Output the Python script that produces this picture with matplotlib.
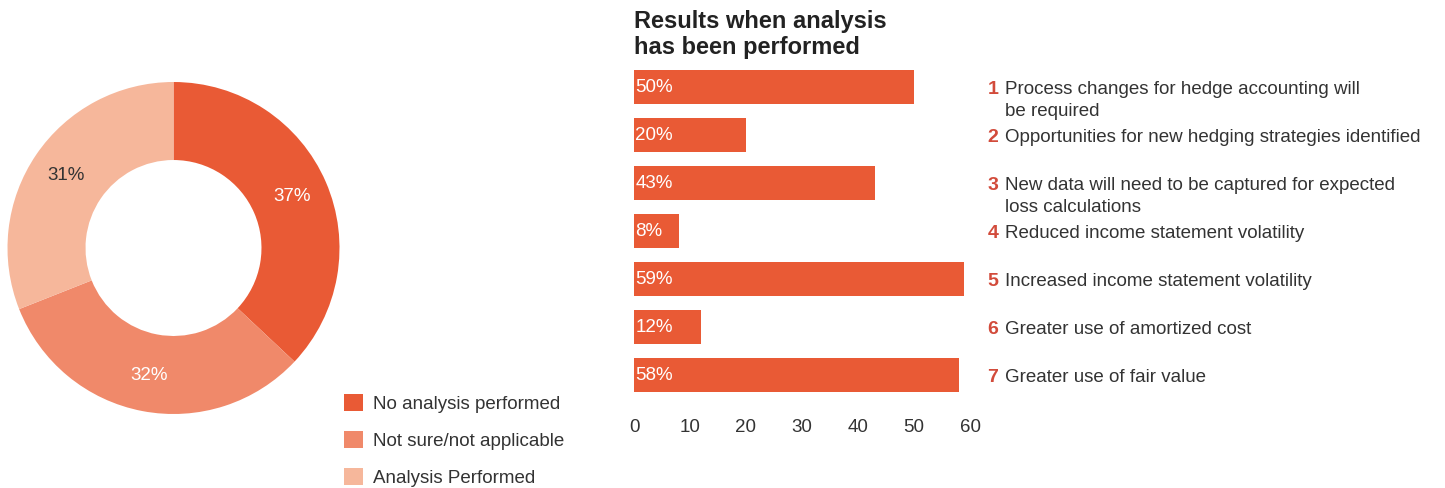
import matplotlib
matplotlib.use("Agg")
import matplotlib.pyplot as plt
from matplotlib.patches import Patch

plt.rcParams['font.family'] = ['Liberation Sans', 'DejaVu Sans']

# donut data
donut_labels = ["No analysis performed", "Not sure/not applicable", "Analysis Performed"]
donut_values = [37, 32, 31]
donut_colors = ["#E95A35", "#F0896A", "#F6B79B"]
donut_text_colors = ["white", "white", "#333333"]

# bar data
bar_values = [50, 20, 43, 8, 59, 12, 58]
bar_numbers = ["1", "2", "3", "4", "5", "6", "7"]
bar_texts = [
    "Process changes for hedge accounting will\nbe required",
    "Opportunities for new hedging strategies identified",
    "New data will need to be captured for expected\nloss calculations",
    "Reduced income statement volatility",
    "Increased income statement volatility",
    "Greater use of amortized cost",
    "Greater use of fair value",
]
x_ticks = [0, 10, 20, 30, 40, 50, 60]

W, H = 1445, 488
FS = 13.5
fig = plt.figure(figsize=(W / 100, H / 100), dpi=100)

# ---- donut ----
ax_d = fig.add_axes([7 / W, 1 - 414 / H, 333 / W, 332 / H])
wedges, _, autotexts = ax_d.pie(
    donut_values, colors=donut_colors, startangle=90, counterclock=False,
    autopct="%d%%", pctdistance=0.78,
    wedgeprops=dict(width=0.47, linewidth=0), textprops=dict(fontsize=FS))
for t, c in zip(autotexts, donut_text_colors):
    t.set_color(c)
ax_d.set_xlim(-1, 1)
ax_d.set_ylim(-1, 1)
ax_d.set_aspect("equal")
ax_d.axis("off")

handles = [Patch(facecolor=c, edgecolor="none") for c in donut_colors]
fig.legend(handles, donut_labels, loc="upper left",
           bbox_to_anchor=(344 / W, 1 - 394 / H), frameon=False, fontsize=FS,
           handlelength=1.0, handleheight=1.0, handletextpad=0.55,
           labelspacing=0.97, borderpad=0, borderaxespad=0,
           labelcolor="#333333")

# ---- bars ----
ax_b = fig.add_axes([634 / W, 1 - 403.8 / H, 336 / W, 345.6 / H])
ypos = list(range(len(bar_values)))
ax_b.barh(ypos, bar_values, height=0.71, color="#E95A35")
ax_b.set_xlim(0, 60)
ax_b.set_ylim(6.6, -0.6)
ax_b.set_xticks(x_ticks)
ax_b.tick_params(axis="x", length=0, pad=11, labelsize=FS, labelcolor="#333333")
ax_b.set_yticks([])
for s in ax_b.spines.values():
    s.set_visible(False)

for y, v in zip(ypos, bar_values):
    ax_b.text(0.25, y, f"{v}%", color="white", fontsize=FS, va="center", ha="left")

for y, n, t in zip(ypos, bar_numbers, bar_texts):
    ax_b.text(63.1, y + 0.05, n, color="#D24B3B", fontsize=FS + 0.5, fontweight="bold",
              va="center", ha="left")
    ax_b.text(66.3, y - 0.13, t, color="#333333", fontsize=FS, va="top",
              ha="left", linespacing=1.4)

fig.text(634 / W, 1 - 10 / H, "Results when analysis\nhas been performed",
         fontsize=17, fontweight="bold", color="#222222", va="top",
         ha="left", linespacing=1.16)

fig.savefig("out.png", dpi=100)
